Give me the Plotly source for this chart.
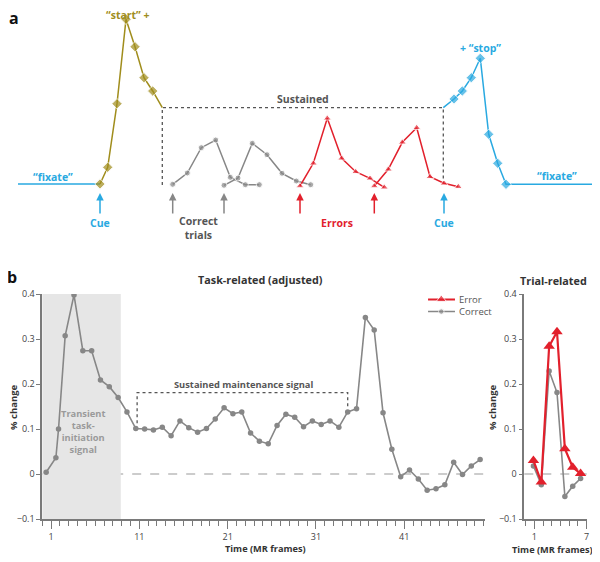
import numpy as np
import plotly.graph_objects as go

# ---------------- panel b: data ----------------
task_frames = [0.45, 1.55, 1.85] + [round(v, 1) for v in np.arange(2.6, 50, 1.0)]
task_correct = [0.004, 0.036, 0.100,
                0.307, 0.398, 0.274, 0.274, 0.209, 0.194, 0.170, 0.138, 0.101, 0.100,
                0.098, 0.104, 0.085, 0.118, 0.103, 0.093, 0.101, 0.122, 0.147, 0.134,
                0.138, 0.091, 0.073, 0.067, 0.108, 0.133, 0.126, 0.105, 0.118, 0.110,
                0.118, 0.104, 0.138, 0.145, 0.348, 0.320, 0.136, 0.055, -0.006, 0.009,
                -0.011, -0.036, -0.033, -0.024, 0.026, -0.001, 0.018, 0.032]

trial_frames = [0.9, 1.8, 2.7, 3.6, 4.5, 5.4, 6.3]
trial_correct = [0.018, -0.024, 0.229, 0.181, -0.050, -0.027, -0.010]
trial_error = [0.030, -0.018, 0.284, 0.316, 0.056, 0.015, 0.001]

task_ticks = [1, 11, 21, 31, 41]
trial_ticks = [1, 7]
y_ticks = [-0.1, 0, 0.1, 0.2, 0.3, 0.4]
y_ticktext = ["\u22120.1", "0", "0.1", "0.2", "0.3", "0.4"]

transient_end = 8.9            # end of the shaded task-initiation window
sustained_x = [10.75, 10.75, 34.6, 34.6]
sustained_y = [0.113, 0.181, 0.181, 0.147]

# ---------------- panel a: schematic (arbitrary units) ----------------
fix_left_x = [18, 100]
fix_left_y = [184, 184]
start_x = [100, 107.7, 117, 126, 135, 144, 152.7, 162.3]
start_y = [184, 167.3, 103.7, 19.3, 46.7, 77.7, 91, 107.7]
bracket_x = [162.3, 162.3, 443.3, 443.3]
bracket_y = [185, 107.7, 107.7, 183]
stop_x = [443.3, 454, 462.3, 471.3, 480.3, 488.7, 497.7, 506, 593.3]
stop_y = [107.7, 99, 91, 77.7, 58.3, 134.3, 163.3, 184.3, 184.3]

correct1_x = [172.7, 187.3, 201.3, 215.7, 230.3, 245.3, 259.3]
correct1_y = [184.3, 173, 147.7, 140, 177.3, 184.7, 184.7]
correct2_x = [224, 238, 252.3, 267, 282, 296.3, 310.7]
correct2_y = [185.3, 178, 143.3, 154.7, 173.3, 181, 184.7]
error1_x = [300, 313.3, 327.3, 341.7, 355.7, 370, 384.3]
error1_y = [186, 163.3, 118.3, 158.3, 171.7, 178.3, 187.3]
error2_x = [374.3, 388.3, 402.3, 416.7, 430, 444, 458.3]
error2_y = [186, 169.3, 142.3, 127.7, 176.7, 183.3, 186.7]

cue_arrows = [100, 444]
correct_arrows = [172.7, 224]
error_arrows = [300, 374.3]

GRAY = "#878787"
RED = "#e2202c"
BLUE = "#29a9e1"
OLIVE = "#a08d1c"
AXIS = "#7a7a7a"
FONT = "Open Sans"

# the page body has an 8px margin, so the figure is 8px smaller than the window
OFF = 8
W, H = 600 - OFF, 562 - OFF


def px(x):
    return (x - OFF) / W


def py(y):
    return 1 - (y - OFF) / H


fig = go.Figure()

# ---- panel a traces ----
def schem(x, y, color, symbol, size, mask=None):
    sizes = [size] * len(x) if mask is None else [size if m else 0 for m in mask]
    fig.add_trace(go.Scatter(x=x, y=y, xaxis="x3", yaxis="y3", mode="lines+markers",
                             line=dict(color=color, width=1.5),
                             marker=dict(color=color, symbol=symbol, size=sizes),
                             showlegend=False, hoverinfo="skip"))

fig.add_trace(go.Scatter(x=fix_left_x, y=fix_left_y, xaxis="x3", yaxis="y3", mode="lines",
                         line=dict(color=BLUE, width=1.5), showlegend=False))
fig.add_trace(go.Scatter(x=bracket_x, y=bracket_y, xaxis="x3", yaxis="y3", mode="lines",
                         line=dict(color="#555555", width=1.3, dash="dot"), showlegend=False))
schem(start_x, start_y, OLIVE, "diamond", 8, [1, 1, 1, 1, 1, 1, 1, 0])
schem(stop_x, stop_y, BLUE, "diamond", 8, [0, 1, 1, 1, 1, 1, 1, 1, 0])
schem(correct1_x, correct1_y, GRAY, "circle", 6)
schem(correct2_x, correct2_y, GRAY, "circle", 6)
schem(error1_x, error1_y, RED, "triangle-up", 7)
schem(error2_x, error2_y, RED, "triangle-up", 7)

# ---- panel b: task-related ----
fig.add_trace(go.Scatter(x=task_frames, y=task_correct, mode="lines+markers",
                         line=dict(color=GRAY, width=1.6),
                         marker=dict(color=GRAY, size=5.5), showlegend=False))
fig.add_trace(go.Scatter(x=sustained_x, y=sustained_y, mode="lines",
                         line=dict(color="#555555", width=1.3, dash="dot"), showlegend=False))

# legend samples drawn inside the task panel
fig.add_trace(go.Scatter(x=[43.7, 45.2, 46.75], y=[0.388] * 3, mode="lines+markers",
                         line=dict(color=RED, width=2),
                         marker=dict(color=RED, symbol="triangle-up", size=[0, 9, 0]),
                         showlegend=False))
fig.add_trace(go.Scatter(x=[43.7, 45.2, 46.75], y=[0.361] * 3, mode="lines+markers",
                         line=dict(color=GRAY, width=1.6),
                         marker=dict(color=GRAY, size=[0, 5.5, 0]), showlegend=False))

# ---- panel b: trial-related ----
fig.add_trace(go.Scatter(x=trial_frames, y=trial_correct, xaxis="x2", yaxis="y2",
                         mode="lines+markers", line=dict(color=GRAY, width=1.6),
                         marker=dict(color=GRAY, size=5.5), showlegend=False))
fig.add_trace(go.Scatter(x=trial_frames, y=trial_error, xaxis="x2", yaxis="y2",
                         mode="lines+markers", line=dict(color=RED, width=2.2),
                         marker=dict(color=RED, symbol="triangle-up", size=10),
                         showlegend=False))

shapes = [
    dict(type="rect", xref="x", yref="y", x0=0, x1=transient_end, y0=-0.1, y1=0.4,
         fillcolor="#e6e6e6", line=dict(width=0), layer="below"),
    dict(type="line", xref="x domain", yref="y", x0=0, x1=1, y0=0, y1=0,
         line=dict(color="#999999", width=1, dash="dash"), layer="below"),
    dict(type="line", xref="x2 domain", yref="y2", x0=0, x1=1, y0=0, y1=0,
         line=dict(color="#999999", width=1, dash="dash"), layer="below"),
]

def txt(x, y, text, size, color, bold=True, xref="paper", yref="paper", **kw):
    kw.setdefault("xanchor", "center")
    kw.setdefault("yanchor", "middle")
    return dict(x=x, y=y, xref=xref, yref=yref, text=text, showarrow=False,
                font=dict(family=FONT, size=size, color=color,
                          weight="bold" if bold else "normal"), **kw)

annotations = [
    txt(px(14), py(18), "a", 16, "#111111"),
    txt(px(12), py(277), "b", 16, "#111111"),
    txt(px(260), py(279.3), "Task-related (adjusted)", 10.8, "#333333"),
    txt(px(553.3), py(280), "Trial-related", 10.8, "#333333"),
    txt(px(265), py(548), "Time (MR frames)", 9.2, "#333333"),
    txt(px(552), py(549), "Time (MR frames)", 9.2, "#333333"),
    txt(px(13.3), py(406.7), "% change", 9.5, "#333333", textangle=-90),
    txt(px(492.3), py(406.7), "% change", 9.5, "#333333", textangle=-90),
    txt(22.8, 0.198, "Sustained maintenance signal", 9.3, "#555555", xref="x", yref="y"),
    txt(4.6, 0.094, "Transient<br>task-<br>initiation<br>signal", 9.3, "#9a9a9a",
        xref="x", yref="y"),
    txt(47.0, 0.388, "Error", 9.5, "#555555", bold=False, xref="x", yref="y", xanchor="left"),
    txt(47.0, 0.361, "Correct", 9.5, "#555555", bold=False, xref="x", yref="y", xanchor="left"),
    # panel a labels
    txt(53.3, 176.7, "\u201cfixate\u201d", 10.5, BLUE, xref="x3", yref="y3"),
    txt(556.7, 176, "\u201cfixate\u201d", 10.5, BLUE, xref="x3", yref="y3"),
    txt(128.3, 14.5, "\u201cstart\u201d +", 10.5, OLIVE, xref="x3", yref="y3"),
    txt(480, 47.7, "+ \u201cstop\u201d", 10.5, BLUE, xref="x3", yref="y3"),
    txt(303.3, 99, "Sustained", 10.5, "#555555", xref="x3", yref="y3"),
    txt(100, 222.7, "Cue", 10.5, BLUE, xref="x3", yref="y3"),
    txt(444, 222.7, "Cue", 10.5, BLUE, xref="x3", yref="y3"),
    txt(198.3, 227.5, "Correct<br>trials", 10.5, "#555555", xref="x3", yref="y3"),
    txt(336.7, 222.7, "Errors", 10.5, RED, xref="x3", yref="y3"),
]

for xs, color in [(cue_arrows, BLUE), (correct_arrows, GRAY), (error_arrows, RED)]:
    for xv in xs:
        annotations.append(dict(x=xv, y=193, ax=xv, ay=215, xref="x3", yref="y3",
                                axref="x3", ayref="y3", text="", showarrow=True,
                                arrowhead=2, arrowsize=1, arrowwidth=1.5,
                                arrowcolor=color, standoff=0, startstandoff=0))

tickfont = dict(family=FONT, size=9, color="#444444")
common_x = dict(showgrid=False, zeroline=False, showline=True, linecolor=AXIS, linewidth=1.5,
                ticks="outside", ticklen=8, tickwidth=1.2, tickcolor=AXIS, tickfont=tickfont,
                tickmode="array", automargin=False,
                minor=dict(tickmode="linear", tick0=0, dtick=1, ticks="outside", ticklen=5,
                           tickwidth=1, tickcolor=AXIS, showgrid=False))
common_y = dict(showgrid=False, zeroline=False, showline=True, linecolor=AXIS, linewidth=1.5,
                ticks="outside", ticklen=4, tickwidth=1.2, tickcolor=AXIS, tickfont=tickfont,
                tickmode="array", tickvals=y_ticks, ticktext=y_ticktext, range=[-0.1, 0.4],
                automargin=False)

fig.update_layout(
    template="none",
    width=W, height=H,
    margin=dict(l=0, r=0, t=0, b=0, pad=0),
    paper_bgcolor="white", plot_bgcolor="rgba(0,0,0,0)",
    font=dict(family=FONT),
    xaxis=dict(domain=[px(42.2), px(485)], range=[0, 50.15], tickvals=task_ticks,
               anchor="y", **common_x),
    yaxis=dict(domain=[py(519), py(294)], anchor="x", **common_y),
    xaxis2=dict(domain=[px(524.3), px(586.7)], range=[-0.145, 7], tickvals=trial_ticks,
                anchor="y2", **common_x),
    yaxis2=dict(domain=[py(519), py(294)], anchor="x2", **common_y),
    xaxis3=dict(domain=[0, 1], range=[OFF, 600], visible=False, anchor="y3",
                automargin=False),
    yaxis3=dict(domain=[py(240), 1], range=[240, OFF], visible=False, anchor="x3",
                automargin=False),
    shapes=shapes,
    annotations=annotations,
)

fig.write_html("out.html")
